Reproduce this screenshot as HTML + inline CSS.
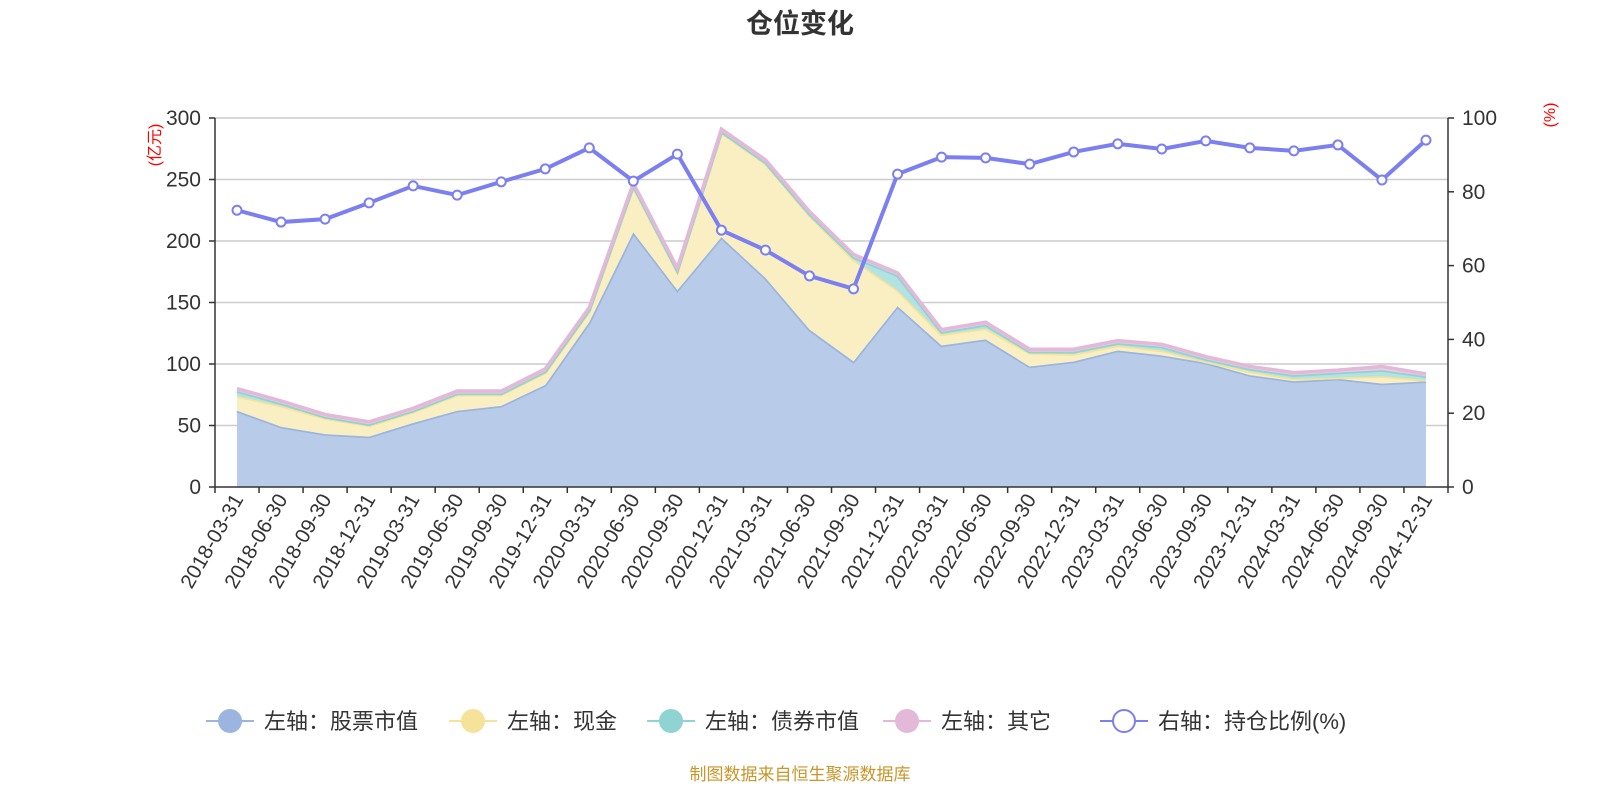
<!DOCTYPE html>
<html><head><meta charset="utf-8"><style>
body{margin:0;background:#fff;}
svg text{font-family:"Liberation Sans","Noto Sans CJK SC",sans-serif;}
</style></head><body>
<svg id="chart" width="1600" height="800" xmlns="http://www.w3.org/2000/svg">
<text x="800" y="33" text-anchor="middle" font-size="27" font-weight="bold" fill="#333">仓位变化</text>
<text transform="translate(160,145) rotate(-90)" text-anchor="middle" font-size="16" fill="red">(亿元)</text>
<text transform="translate(1555,115) rotate(-90)" text-anchor="middle" font-size="16" fill="red">(%)</text>
<g id="grid"></g><g id="areas"></g><g id="lines"></g><g id="axes"></g>
<g id="legend"></g>
<text x="800" y="780" text-anchor="middle" font-size="17" fill="#c9962a">制图数据来自恒生聚源数据库</text>
</svg>
<script>
const categories=["2018-03-31","2018-06-30","2018-09-30","2018-12-31","2019-03-31","2019-06-30","2019-09-30","2019-12-31","2020-03-31","2020-06-30","2020-09-30","2020-12-31","2021-03-31","2021-06-30","2021-09-30","2021-12-31","2022-03-31","2022-06-30","2022-09-30","2022-12-31","2023-03-31","2023-06-30","2023-09-30","2023-12-31","2024-03-31","2024-06-30","2024-09-30","2024-12-31"];
const stock=[62,49,43,41,52,62,66,83,134,207,160,203,170,128,102,147,115,120,98,102,111,107,101,91,86,88,84,86];
const cash=[12,17,13,9,9,13,9,10,9,37,15,85,93,93,83,13,9,9,11,6,4,4,1,3,2,1,6,1];
const bond=[4,2,1,1,1,1,1,1,1,1,1,1,1,1,2,12,2,3,1,2,2,3,2,2,3,4,5,3];
const other=[2,2,2,2,2,2,2,2,2,2,2,2,2,2,2,2,2,2,2,2,2,2,2,2,2,2,3,2];
const ratio=[75,71.8,72.6,77,81.6,79.1,82.7,86.2,91.9,82.9,90.2,69.6,64.2,57.2,53.7,84.8,89.4,89.2,87.5,90.8,93,91.6,93.8,91.9,91.1,92.7,83.2,94];
const leftTicks=[0,50,100,150,200,250,300];
const rightTicks=[0,20,40,60,80,100];
const NS="http://www.w3.org/2000/svg";
const X0=215,X1=1448,Y0=487,Y1=118;
const bw=(X1-X0)/categories.length;
const xs=i=>X0+bw*(i+0.5);
const yl=v=>Y0-(v/300)*(Y0-Y1);
const yr=v=>Y0-(v/100)*(Y0-Y1);
function mk(t,a,p){const e=document.createElementNS(NS,t);for(const k in a)e.setAttribute(k,a[k]);p.appendChild(e);return e;}
const grid=document.getElementById('grid'),axes=document.getElementById('axes'),areas=document.getElementById('areas'),lines=document.getElementById('lines'),legend=document.getElementById('legend');
leftTicks.forEach(v=>{
 if(v>0){const g=mk('line',{x1:X0,x2:X1,y1:yl(v),y2:yl(v),stroke:'#ccc','stroke-width':1.5},grid);
 
 }
 const t=mk('text',{x:X0-14,y:yl(v)+7,'text-anchor':'end','font-size':21,fill:'#333'},axes);t.textContent=v;
 
 
 mk('line',{x1:X0-6,x2:X0,y1:yl(v),y2:yl(v),stroke:'#333','stroke-width':1.5},axes);
});
rightTicks.forEach(v=>{
 const t=mk('text',{x:X1+14,y:yr(v)+7,'font-size':21,fill:'#333'},axes);t.textContent=v;
 
 
 mk('line',{x1:X1,x2:X1+6,y1:yr(v),y2:yr(v),stroke:'#333','stroke-width':1.5},axes);
});
mk('line',{x1:X0,x2:X0,y1:Y1,y2:Y0,stroke:'#333','stroke-width':1.5},axes);
mk('line',{x1:X1,x2:X1,y1:Y1,y2:Y0,stroke:'#333','stroke-width':1.5},axes);
mk('line',{x1:X0,x2:X1,y1:Y0,y2:Y0,stroke:'#333','stroke-width':1.5},axes);
for(let i=0;i<=categories.length;i++){mk('line',{x1:X0+bw*i,x2:X0+bw*i,y1:Y0,y2:Y0+6,stroke:'#333','stroke-width':1.5},axes);}
categories.forEach((c,i)=>{
 const t=mk('text',{transform:`translate(${xs(i)+7},${Y0+12}) rotate(-60)`,'text-anchor':'end','font-size':20.5,fill:'#333'},axes);t.textContent=c;
 
 
});
const series=[[stock,'#9bb5e0','#b8cce9','股票市值'],[cash,'#f5e39a','#faefc3','现金'],[bond,'#8fd3d3','#b2e2e2','债券市值'],[other,'#e4b8d8','#eccbe3','其它']];
const base=categories.map(()=>0);
series.forEach(([arr,lc,fc,name],si)=>{
 const top=arr.map((v,i)=>base[i]+v);
 let d='M'+top.map((v,i)=>xs(i)+','+yl(v)).join('L');
 for(let i=arr.length-1;i>=0;i--)d+='L'+xs(i)+','+yl(base[i]);
 const a=mk('path',{d:d+'Z',fill:fc,stroke:'none'},areas);
 
 
 const l=mk('polyline',{points:top.map((v,i)=>xs(i)+','+yl(v)).join(' '),fill:'none',stroke:lc,'stroke-width':3.5},areas);
 
 
 top.forEach((v,i)=>base[i]=v);
});
const rl=mk('polyline',{points:ratio.map((v,i)=>xs(i)+','+yr(v)).join(' '),fill:'none',stroke:'#7b7ff0','stroke-width':4},lines);


ratio.forEach((v,i)=>{const p=mk('circle',{cx:xs(i),cy:yr(v),r:4.5,fill:'#fff',stroke:'#7b7ff0','stroke-width':2},lines);
 
 });
const leg=[['#9bb5e0','左轴：股票市值',true],['#f5e39a','左轴：现金',true],['#8fd3d3','左轴：债券市值',true],['#e4b8d8','左轴：其它',true],['#7b7ff0','右轴：持仓比例(%)',false]];
const lx=[206,449,647,883,1100];
leg.forEach(([c,t,f],i)=>{
 const g=mk('g',{},legend);
 
 
 mk('line',{x1:lx[i],x2:lx[i]+48,y1:721,y2:721,stroke:c,'stroke-width':2},g);
 mk('circle',{cx:lx[i]+24,cy:721,r:11,fill:f?c:'#fff',stroke:c,'stroke-width':2},g);
 const tx=mk('text',{x:lx[i]+58,y:729,'font-size':22,fill:'#333'},g);tx.textContent=t;
});
</script>
</body></html>
